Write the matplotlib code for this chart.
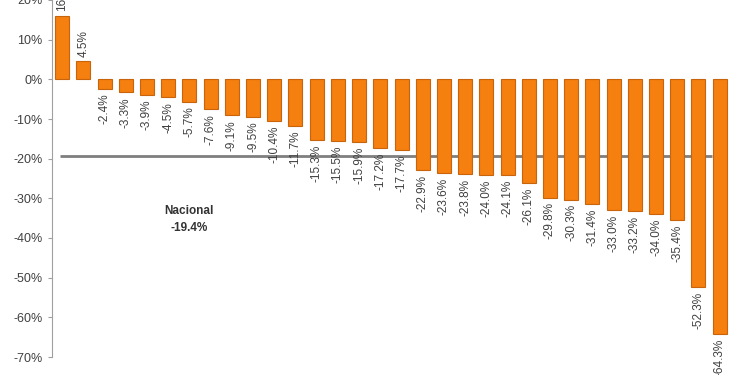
import matplotlib
matplotlib.use("Agg")
import matplotlib.pyplot as plt
from matplotlib.ticker import FuncFormatter

plt.rcParams['font.family'] = ['Liberation Sans', 'DejaVu Sans']

values = [16.0, 4.5, -2.4, -3.3, -3.9, -4.5, -5.7, -7.6, -9.1, -9.5, -10.4,
          -11.7, -15.3, -15.5, -15.9, -17.2, -17.7, -22.9, -23.6, -23.8, -24.0,
          -24.1, -26.1, -29.8, -30.3, -31.4, -33.0, -33.2, -34.0, -35.4, -52.3,
          -64.3]
national = -19.4
national_label = "Nacional\n-19.4%"
yticks = [20, 10, 0, -10, -20, -30, -40, -50, -60, -70]

fig = plt.figure(figsize=(7.5, 3.75), dpi=100)
ax = fig.add_axes([0.0687, 0.048, 0.905, 0.952])

x = list(range(len(values)))
ax.hlines(national, -0.1, 30.66, color='#7f7f7f', linewidth=2, zorder=1)
ax.bar(x, values, width=0.66, color='#f57f0f', edgecolor='#c8650c',
       linewidth=0.8, zorder=2)

for xi, v in zip(x, values):
    if v >= 0:
        ax.text(xi, v + 1.2, f"{v:.1f}%", rotation=90, ha='center', va='bottom',
                fontsize=8.5, color='#404040', clip_on=False)
    else:
        ax.text(xi, v - 1.2, f"{v:.1f}%", rotation=90, ha='center', va='top',
                fontsize=8.5, color='#404040', clip_on=False)

ax.text(6.0, -35.3, national_label, ha='center', va='center', fontsize=8.5,
        fontweight='bold', color='#333333', linespacing=1.6)

ax.set_xlim(-0.5, len(values) - 0.5)
ax.set_ylim(-70, 20)
ax.set_yticks(yticks)
ax.yaxis.set_major_formatter(FuncFormatter(lambda v, p: f"{v:.0f}%"))
ax.tick_params(axis='y', labelsize=9, colors='#404040', length=3, color='#a0a0a0')
ax.set_xticks([])
for s in ['top', 'right', 'bottom']:
    ax.spines[s].set_visible(False)
ax.spines['left'].set_color('#a0a0a0')

fig.savefig("out.png", dpi=100, facecolor='white')
